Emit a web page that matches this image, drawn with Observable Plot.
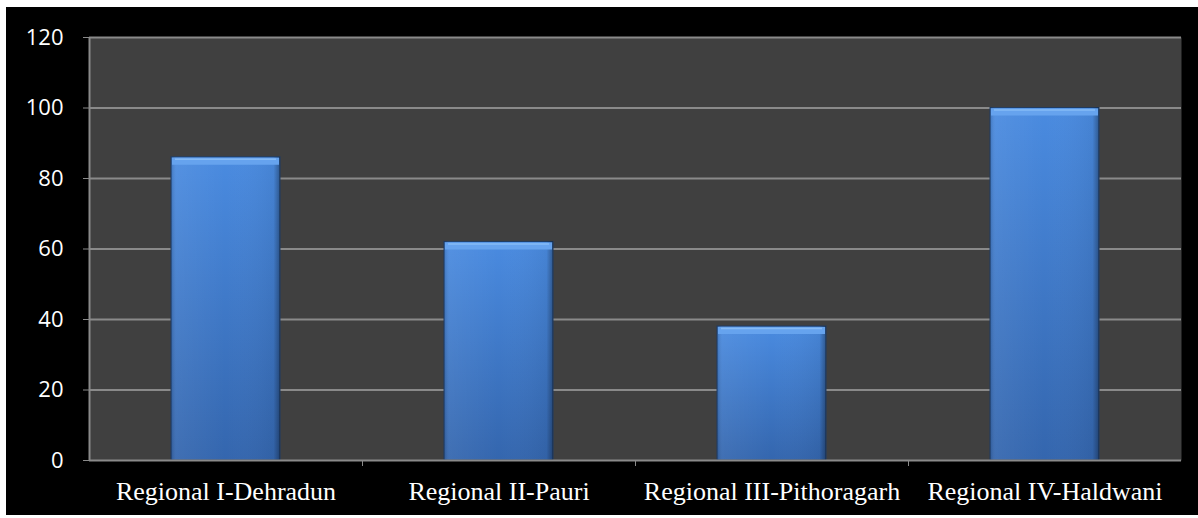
<!DOCTYPE html>
<html><head><meta charset="utf-8">
<script src="https://cdn.jsdelivr.net/npm/d3@7"></script>
<script src="https://cdn.jsdelivr.net/npm/@observablehq/plot@0.6"></script>
<style>
html,body{margin:0;padding:0;background:#fff;}
#wrap{padding:7px 0 0 6px;}
</style></head>
<body><div id="wrap"></div>
<script>
const categories = ["Regional I-Dehradun", "Regional II-Pauri", "Regional III-Pithoragarh", "Regional IV-Haldwani"];
const values = [86, 62, 38, 100];
const yTicks = [0, 20, 40, 60, 80, 100, 120];

const data = categories.map((c, i) => ({cat: c, value: values[i]}));
const W = 1192, H = 508, mL = 83, mR = 17;
const step = (W - mL - mR) / categories.length;

const chart = Plot.plot({
  width: W, height: H,
  marginLeft: mL, marginRight: mR, marginTop: 30, marginBottom: 55,
  style: {background: "#000", color: "#fff", overflow: "visible"},
  x: {domain: categories, paddingInner: 0.6, paddingOuter: 0.3, label: null},
  y: {domain: [0, 120], label: null},
  marks: [
    Plot.frame({fill: "#404040", stroke: null}),
    Plot.ruleY(yTicks.filter(d => d > 0), {stroke: "#8a8a8a", strokeWidth: 2}),
    Plot.barY(data, {x: "cat", y: "value", fill: "url(#barV)", stroke: "#1e3b63", strokeWidth: 1}),
    Plot.barY(data, {x: "cat", y: "value", fill: "url(#barH)"}),
    Plot.tickY(data, {x: "cat", y: "value", dy: 4, strokeWidth: 7, stroke: "#66a3ee", insetLeft: 1, insetRight: 1}),
    Plot.tickY(data, {x: "cat", y: "value", dy: 2, strokeWidth: 1.5, stroke: "#86bbf6", insetLeft: 4, insetRight: 4}),
    Plot.ruleY([0], {stroke: "#8a8a8a", strokeWidth: 2}),
    Plot.ruleX([0], {x: () => categories[0], dx: -step / 2, y1: 0, y2: 120, stroke: "#8a8a8a", strokeWidth: 2}),
    Plot.axisY({ticks: yTicks, tickSize: 6, tickPadding: 20, stroke: "#8a8a8a", fontSize: 22, fontFamily: "Open Sans, sans-serif", fill: "#fff"}),
    Plot.axisX({ticks: categories.slice(0, 3), tickSize: 6, text: null, dx: step / 2, stroke: "#8a8a8a"}),
    Plot.axisX({tickSize: 0, tickPadding: 21, fontSize: 26, fontFamily: "Liberation Serif, Times New Roman, serif", fill: "#fff"})
  ]
});

const svg = d3.select(chart);
const defs = svg.insert("defs", ":first-child");
const gv = defs.append("linearGradient").attr("id", "barV").attr("x1", 0).attr("y1", 0).attr("x2", 0).attr("y2", 1);
gv.append("stop").attr("offset", "0%").attr("stop-color", "#4a8be0");
gv.append("stop").attr("offset", "100%").attr("stop-color", "#3466ae");
const gh = defs.append("linearGradient").attr("id", "barH").attr("x1", 0).attr("y1", 0).attr("x2", 1).attr("y2", 0);
gh.append("stop").attr("offset", "0%").attr("stop-color", "#000").attr("stop-opacity", 0.15);
gh.append("stop").attr("offset", "5%").attr("stop-color", "#fff").attr("stop-opacity", 0.06);
gh.append("stop").attr("offset", "50%").attr("stop-color", "#fff").attr("stop-opacity", 0.0);
gh.append("stop").attr("offset", "94%").attr("stop-color", "#000").attr("stop-opacity", 0.05);
gh.append("stop").attr("offset", "100%").attr("stop-color", "#000").attr("stop-opacity", 0.35);

document.getElementById("wrap").appendChild(chart);
</script></body></html>
